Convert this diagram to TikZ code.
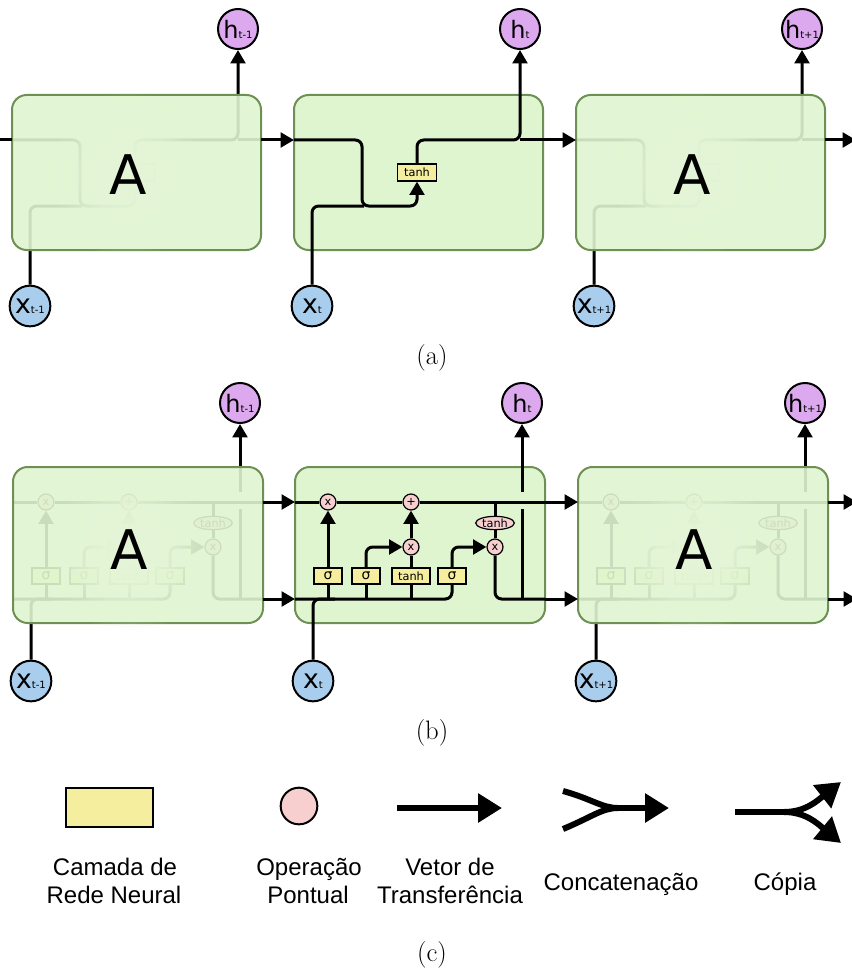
\documentclass[tikz,border=0pt]{standalone}
\usepackage{fontspec}
\usetikzlibrary{arrows.meta,shapes.geometric,fadings}
\newfontfamily\dejavu{DejaVu Sans}
\newfontfamily\arialf{Liberation Sans}
\definecolor{cellfill}{HTML}{DFF5D0}
\definecolor{cellline}{HTML}{6F9055}
\definecolor{hfill}{HTML}{DDA9EE}
\definecolor{xfill}{HTML}{A9CDEC}
\definecolor{opfill}{HTML}{F8CFCF}
\definecolor{layfill}{HTML}{F4EE9E}
\tikzfading[name=glowfade,inner color=transparent!0,outer color=transparent!100]
\tikzset{
 wire/.style={line width=2.25pt},
 arr/.style={line width=2.25pt,-{Triangle[width=11pt,length=10pt]}},
 cellbox/.style={draw=cellline,line width=1.5pt,fill=cellfill,rounded corners=11pt},
 fadebox/.style={cellbox,fill opacity=0.9},
 glow/.style={fill=cellfill!85!white,path fading=glowfade},
 hnode/.style={circle,draw,line width=1.5pt,fill=hfill,minimum size=30pt,inner sep=0pt,font=\dejavu},
 xnode/.style={circle,draw,line width=1.5pt,fill=xfill,minimum size=30.5pt,inner sep=0pt,font=\dejavu},
 opnode/.style={circle,draw,line width=0.9pt,fill=opfill,minimum size=12pt,inner sep=0pt,font=\dejavu\fontsize{8.5}{8.5}\selectfont},
 layer/.style={rectangle,draw,line width=0.9pt,fill=layfill,minimum width=21pt,minimum height=12pt,inner sep=0pt,font=\dejavu\fontsize{8.5}{8.5}\selectfont},
 ellnode/.style={ellipse,draw,line width=0.9pt,fill=opfill,minimum width=29pt,minimum height=10pt,inner sep=0pt,font=\dejavu\fontsize{8.5}{8.5}\selectfont},
 bigA/.style={inner sep=0pt,font=\dejavu\fontsize{41}{41}\selectfont},
 legtext/.style={inner sep=0pt,font=\arialf\fontsize{18}{21}\selectfont},
 legline/.style={line width=4.5pt},
 legarr/.style={line width=4.5pt,-{Triangle[width=21pt,length=18pt]}},
 caption/.style={inner sep=0pt,font=\fontsize{20}{24}\selectfont},
}
\newcommand\hlab[1]{{\fontsize{18}{18}\selectfont h}{\fontsize{7.5}{7.5}\selectfont #1}}
\newcommand\xlab[1]{{\fontsize{20}{20}\selectfont x}{\fontsize{7.5}{7.5}\selectfont #1}}
\newcommand\sig{{\fontsize{10.5}{10.5}\selectfont σ}}
% simple RNN cell (panel a), relative coordinates, box 249 x 155
\newcommand\cellA[2]{%
  \node[hnode] (h#1) at (226,-66) {\hlab{#2}};
  \node[xnode] (x#1) at (18,211) {\xlab{#2}};
  \node[layer,minimum width=29.25pt,minimum height=12.75pt] (t#1) at (123,77.5) {tanh};
  \coordinate (in#1) at (0,45);
  \coordinate (out#1) at (249,45);
  \draw[arr,rounded corners=5pt] (in#1) -- (68,45) -- (68,111) -- (123,111) -- (t#1.south);
  \draw[wire,rounded corners=5pt] (x#1.north) |- (70,111);
  \draw[arr,rounded corners=5pt] (t#1.north) |- (226,45) -- (h#1.south);
  \draw[wire] (226,45) -- (out#1);
}
% LSTM cell (panel b), relative coordinates, box 250 x 156
\newcommand\cellB[2]{%
  \node[hnode] (h#1) at (227,-64) {\hlab{#2}};
  \node[xnode] (x#1) at (18,214) {\xlab{#2}};
  \node[opnode] (f#1) at (33,35) {x};
  \node[opnode] (a#1) at (116,35) {+};
  \node[opnode] (i#1) at (116,80) {x};
  \node[opnode] (o#1) at (200,80) {x};
  \node[ellnode] (e#1) at (200,56) {tanh};
  \node[layer] (sa#1) at (33,109) {\sig};
  \node[layer] (sb#1) at (71,109) {\sig};
  \node[layer,minimum width=28.5pt] (th#1) at (116,109) {tanh};
  \node[layer] (sc#1) at (157,109) {\sig};
  \coordinate (cin#1) at (0,35);
  \coordinate (cout#1) at (250,35);
  \coordinate (hin#1) at (0,132);
  \coordinate (hout#1) at (250,132);
  \draw[wire] (cin#1) -- (f#1.west) (f#1.east) -- (a#1.west) (a#1.east) -- (cout#1);
  \draw[wire,rounded corners=5pt] (hin#1) -| (sc#1.south);
  \draw[wire,rounded corners=5pt] (x#1.north) |- (40,132);
  \draw[wire] (sa#1.south) -- (33,132) (sb#1.south) -- (71,132) (th#1.south) -- (116,132);
  \draw[arr] (sa#1.north) -- (f#1.south);
  \draw[arr,rounded corners=5pt] (sb#1.north) |- (i#1.west);
  \draw[wire] (th#1.north) -- (i#1.south);
  \draw[arr] (i#1.north) -- (a#1.south);
  \draw[arr,rounded corners=5pt] (sc#1.north) |- (o#1.west);
  \draw[wire] (200,35) -- (e#1.north);
  \draw[wire] (e#1.south) -- (o#1.north);
  \draw[wire,rounded corners=5pt] (o#1.south) |- (hout#1);
  \draw[wire] (227,132) -- (227,42);
  \draw[arr] (227,25) -- (h#1.south);
}
\begin{document}
\begin{tikzpicture}[x=0.75pt,y=-0.75pt]
\useasboundingbox (0,0) rectangle (851,970);
% ---------- panel (a)
\begin{scope}[shift={(12,95)}]\cellA{a1}{t-1}\end{scope}
\begin{scope}[shift={(576,95)}]\cellA{a3}{t+1}\end{scope}
\path[fadebox] (12,95) rectangle ++(249,155);
\path[fadebox] (576,95) rectangle ++(249,155);
\path[glow] (128,175) circle (62pt);
\path[glow] (692,175) circle (62pt);
\path[glow] (128,175) circle (50pt);
\path[glow] (692,175) circle (50pt);
\path[cellbox] (294,95) rectangle ++(249,155);
\begin{scope}[shift={(294,95)}]\cellA{a2}{t}\end{scope}
\node[bigA] (Aa1) at (128,175) {A};
\node[bigA] (Aa3) at (692,175) {A};
\coordinate (lefta) at (0,140);
\coordinate (righta) at (856,140);
\draw[wire] (lefta) -- (ina1);
\draw[arr] (outa1) -- (ina2);
\draw[arr] (outa2) -- (ina3);
\draw[arr] (outa3) -- (righta);
\node[caption] (capa) at (432,358) {(a)};
% ---------- panel (b)
\begin{scope}[shift={(13,467)}]\cellB{b1}{t-1}\end{scope}
\begin{scope}[shift={(578,467)}]\cellB{b3}{t+1}\end{scope}
\path[fadebox] (13,467) rectangle ++(250,156);
\path[fadebox] (578,467) rectangle ++(250,156);
\path[glow] (129,550) circle (62pt);
\path[glow] (694,550) circle (62pt);
\path[glow] (129,550) circle (50pt);
\path[glow] (694,550) circle (50pt);
\path[cellbox] (295,467) rectangle ++(250,156);
\begin{scope}[shift={(295,467)}]\cellB{b2}{t}\end{scope}
\node[bigA] (Ab1) at (129,550) {A};
\node[bigA] (Ab3) at (694,550) {A};
\coordinate (rightc) at (857,502);
\coordinate (righth) at (857,599);
\draw[arr] (coutb1) -- (cinb2);
\draw[arr] (houtb1) -- (hinb2);
\draw[arr] (coutb2) -- (cinb3);
\draw[arr] (houtb2) -- (hinb3);
\draw[arr] (coutb3) -- (rightc);
\draw[arr] (houtb3) -- (righth);
\node[caption] (capb) at (432,733) {(b)};
% ---------- panel (c): legend
\node[draw,line width=1.8pt,fill=layfill,minimum width=65.25pt,minimum height=29.25pt,inner sep=0pt] (lg1) at (109.5,807.5) {};
\node[circle,draw,line width=1.5pt,fill=opfill,minimum size=27.5pt,inner sep=0pt] (lg2) at (299,806) {};
\coordinate (v1) at (397,808);
\coordinate (v2) at (502,808);
\draw[legarr] (v1) -- (v2);
\coordinate (c1) at (563,791);
\coordinate (c2) at (563,829);
\coordinate (cm) at (618,808);
\coordinate (ce) at (669,808);
\draw[legline] (c1) .. controls (592,799) and (602,808) .. (cm);
\draw[legline] (c2) .. controls (592,817) and (602,808) .. (cm);
\draw[legarr] ([xshift=-3pt]cm) -- (ce);
\coordinate (p1) at (735,812);
\coordinate (pm) at (784,812);
\coordinate (pt) at (841,782);
\coordinate (pb) at (841,843);
\draw[legline] (p1) -- (pm);
\draw[legarr] (pm) .. controls (806,812) and (818,800) .. (pt);
\draw[legarr] (pm) .. controls (806,812) and (818,824) .. (pb);
\node[legtext,anchor=base] (t1a) at (115,875) {Camada de};
\node[legtext,anchor=base] (t1b) at (114,903) {Rede Neural};
\node[legtext,anchor=base] (t2a) at (309,875) {Operação};
\node[legtext,anchor=base] (t2b) at (308,903) {Pontual};
\node[legtext,anchor=base] (t3a) at (450,875) {Vetor de};
\node[legtext,anchor=base] (t3b) at (450,903) {Transferência};
\node[legtext,anchor=base] (t4) at (621,890) {Concatenação};
\node[legtext,anchor=base] (t5) at (785,890) {Cópia};
\node[caption] (capc) at (432,955) {(c)};
\end{tikzpicture}
\end{document}
